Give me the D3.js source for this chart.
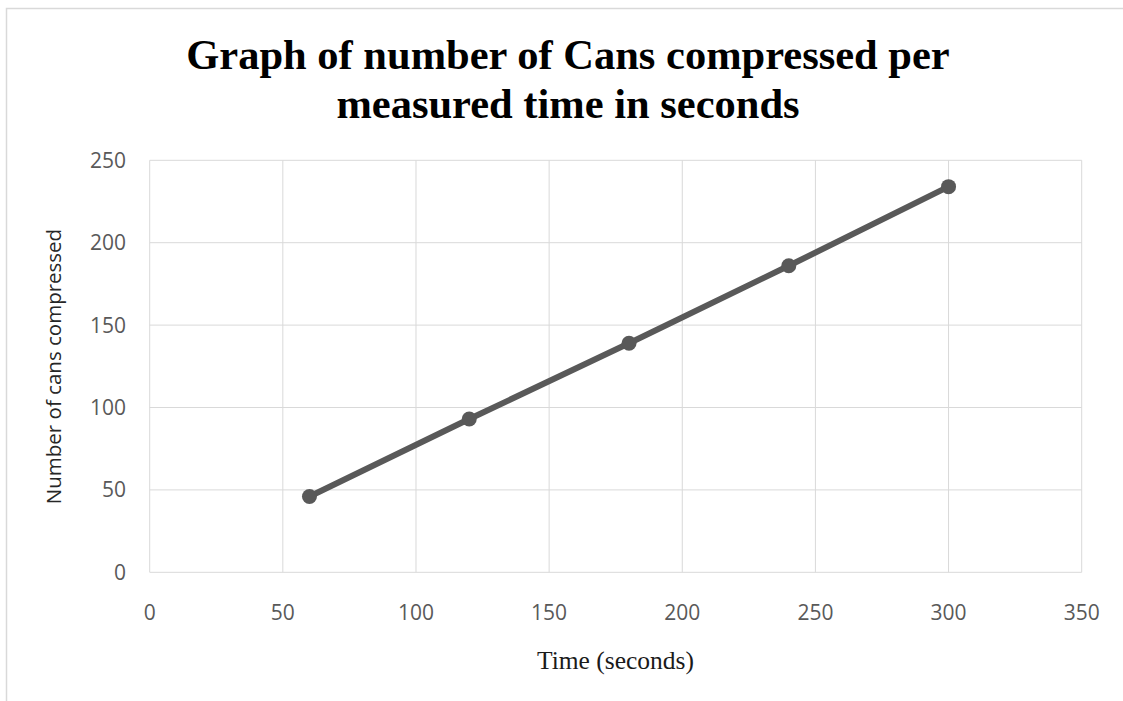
<!DOCTYPE html>
<html>
<head>
<meta charset="utf-8">
<script src="https://cdn.jsdelivr.net/npm/d3@7"></script>
<style>
  html, body { margin: 0; padding: 0; background: #fff; }
  svg { display: block; }
</style>
</head>
<body>
<svg id="chart" width="1123" height="701"></svg>
<script>
(function () {
  'use strict';

  // data
  var seconds = [60, 120, 180, 240, 300];
  var cans = [46, 93, 139, 186, 234];
  var xTicks = [0, 50, 100, 150, 200, 250, 300, 350];
  var yTicks = [0, 50, 100, 150, 200, 250];
  var titleLines = ['Graph of number of Cans compressed per', 'measured time in seconds'];

  var svg = d3.select('#chart');

  // outer chart frame (runs off the right and bottom of the window)
  svg.append('rect')
    .attr('x', 6.5).attr('y', 8.5)
    .attr('width', 1300).attr('height', 900)
    .attr('fill', '#fff')
    .attr('stroke', '#d9d9d9')
    .attr('stroke-width', 1.5);

  var x = d3.scaleLinear().domain([0, 350]).range([149.7, 1081.7]);
  var y = d3.scaleLinear().domain([0, 250]).range([572.3, 160.3]);

  var grid = svg.append('g');

  grid.selectAll('.vgrid')
    .data(xTicks)
    .enter().append('line')
    .attr('x1', function (d) { return x(d); })
    .attr('x2', function (d) { return x(d); })
    .attr('y1', y(0)).attr('y2', y(250))
    .attr('stroke', '#d9d9d9')
    .attr('stroke-width', 1);

  grid.selectAll('.hgrid')
    .data(yTicks)
    .enter().append('line')
    .attr('y1', function (d) { return y(d); })
    .attr('y2', function (d) { return y(d); })
    .attr('x1', x(0)).attr('x2', x(350))
    .attr('stroke', '#d9d9d9')
    .attr('stroke-width', 1);

  // tick labels
  var tickFont = '"Open Sans", sans-serif';

  svg.append('g').selectAll('text')
    .data(xTicks)
    .enter().append('text')
    .attr('x', function (d) { return x(d); })
    .attr('y', 620)
    .attr('text-anchor', 'middle')
    .style('font-family', tickFont)
    .style('font-size', '21px')
    .attr('fill', '#595959')
    .text(function (d) { return d; });

  svg.append('g').selectAll('text')
    .data(yTicks)
    .enter().append('text')
    .attr('x', 126)
    .attr('y', function (d) { return y(d) + 7.5; })
    .attr('text-anchor', 'end')
    .style('font-family', tickFont)
    .style('font-size', '21px')
    .attr('fill', '#595959')
    .text(function (d) { return d; });

  // axis titles
  svg.append('text')
    .attr('transform', 'translate(61,366.5) rotate(-90)')
    .attr('text-anchor', 'middle')
    .style('font-family', tickFont)
    .style('font-size', '20.5px')
    .attr('fill', '#262626')
    .text('Number of cans compressed');

  svg.append('text')
    .attr('x', 615.5)
    .attr('y', 669)
    .attr('text-anchor', 'middle')
    .style('font-family', '"Liberation Serif", "Times New Roman", serif')
    .style('font-size', '25.5px')
    .attr('fill', '#1a1a1a')
    .text('Time (seconds)');

  // chart title
  svg.append('g').selectAll('text')
    .data(titleLines)
    .enter().append('text')
    .attr('x', 568)
    .attr('y', function (d, i) { return 69.3 + i * 49; })
    .attr('text-anchor', 'middle')
    .style('font-family', '"Liberation Serif", "Times New Roman", serif')
    .style('font-size', '42.5px')
    .style('font-weight', 'bold')
    .attr('fill', '#000')
    .text(function (d) { return d; });

  // series
  var points = seconds.map(function (s, i) { return { x: s, y: cans[i] }; });

  var line = d3.line()
    .x(function (d) { return x(d.x); })
    .y(function (d) { return y(d.y); });

  svg.append('path')
    .datum(points)
    .attr('d', line)
    .attr('fill', 'none')
    .attr('stroke', '#595959')
    .attr('stroke-width', 6)
    .attr('stroke-linecap', 'round')
    .attr('stroke-linejoin', 'round');

  svg.append('g').selectAll('circle')
    .data(points)
    .enter().append('circle')
    .attr('cx', function (d) { return x(d.x); })
    .attr('cy', function (d) { return y(d.y); })
    .attr('r', 7.5)
    .attr('fill', '#595959');
})();
</script>
</body>
</html>
